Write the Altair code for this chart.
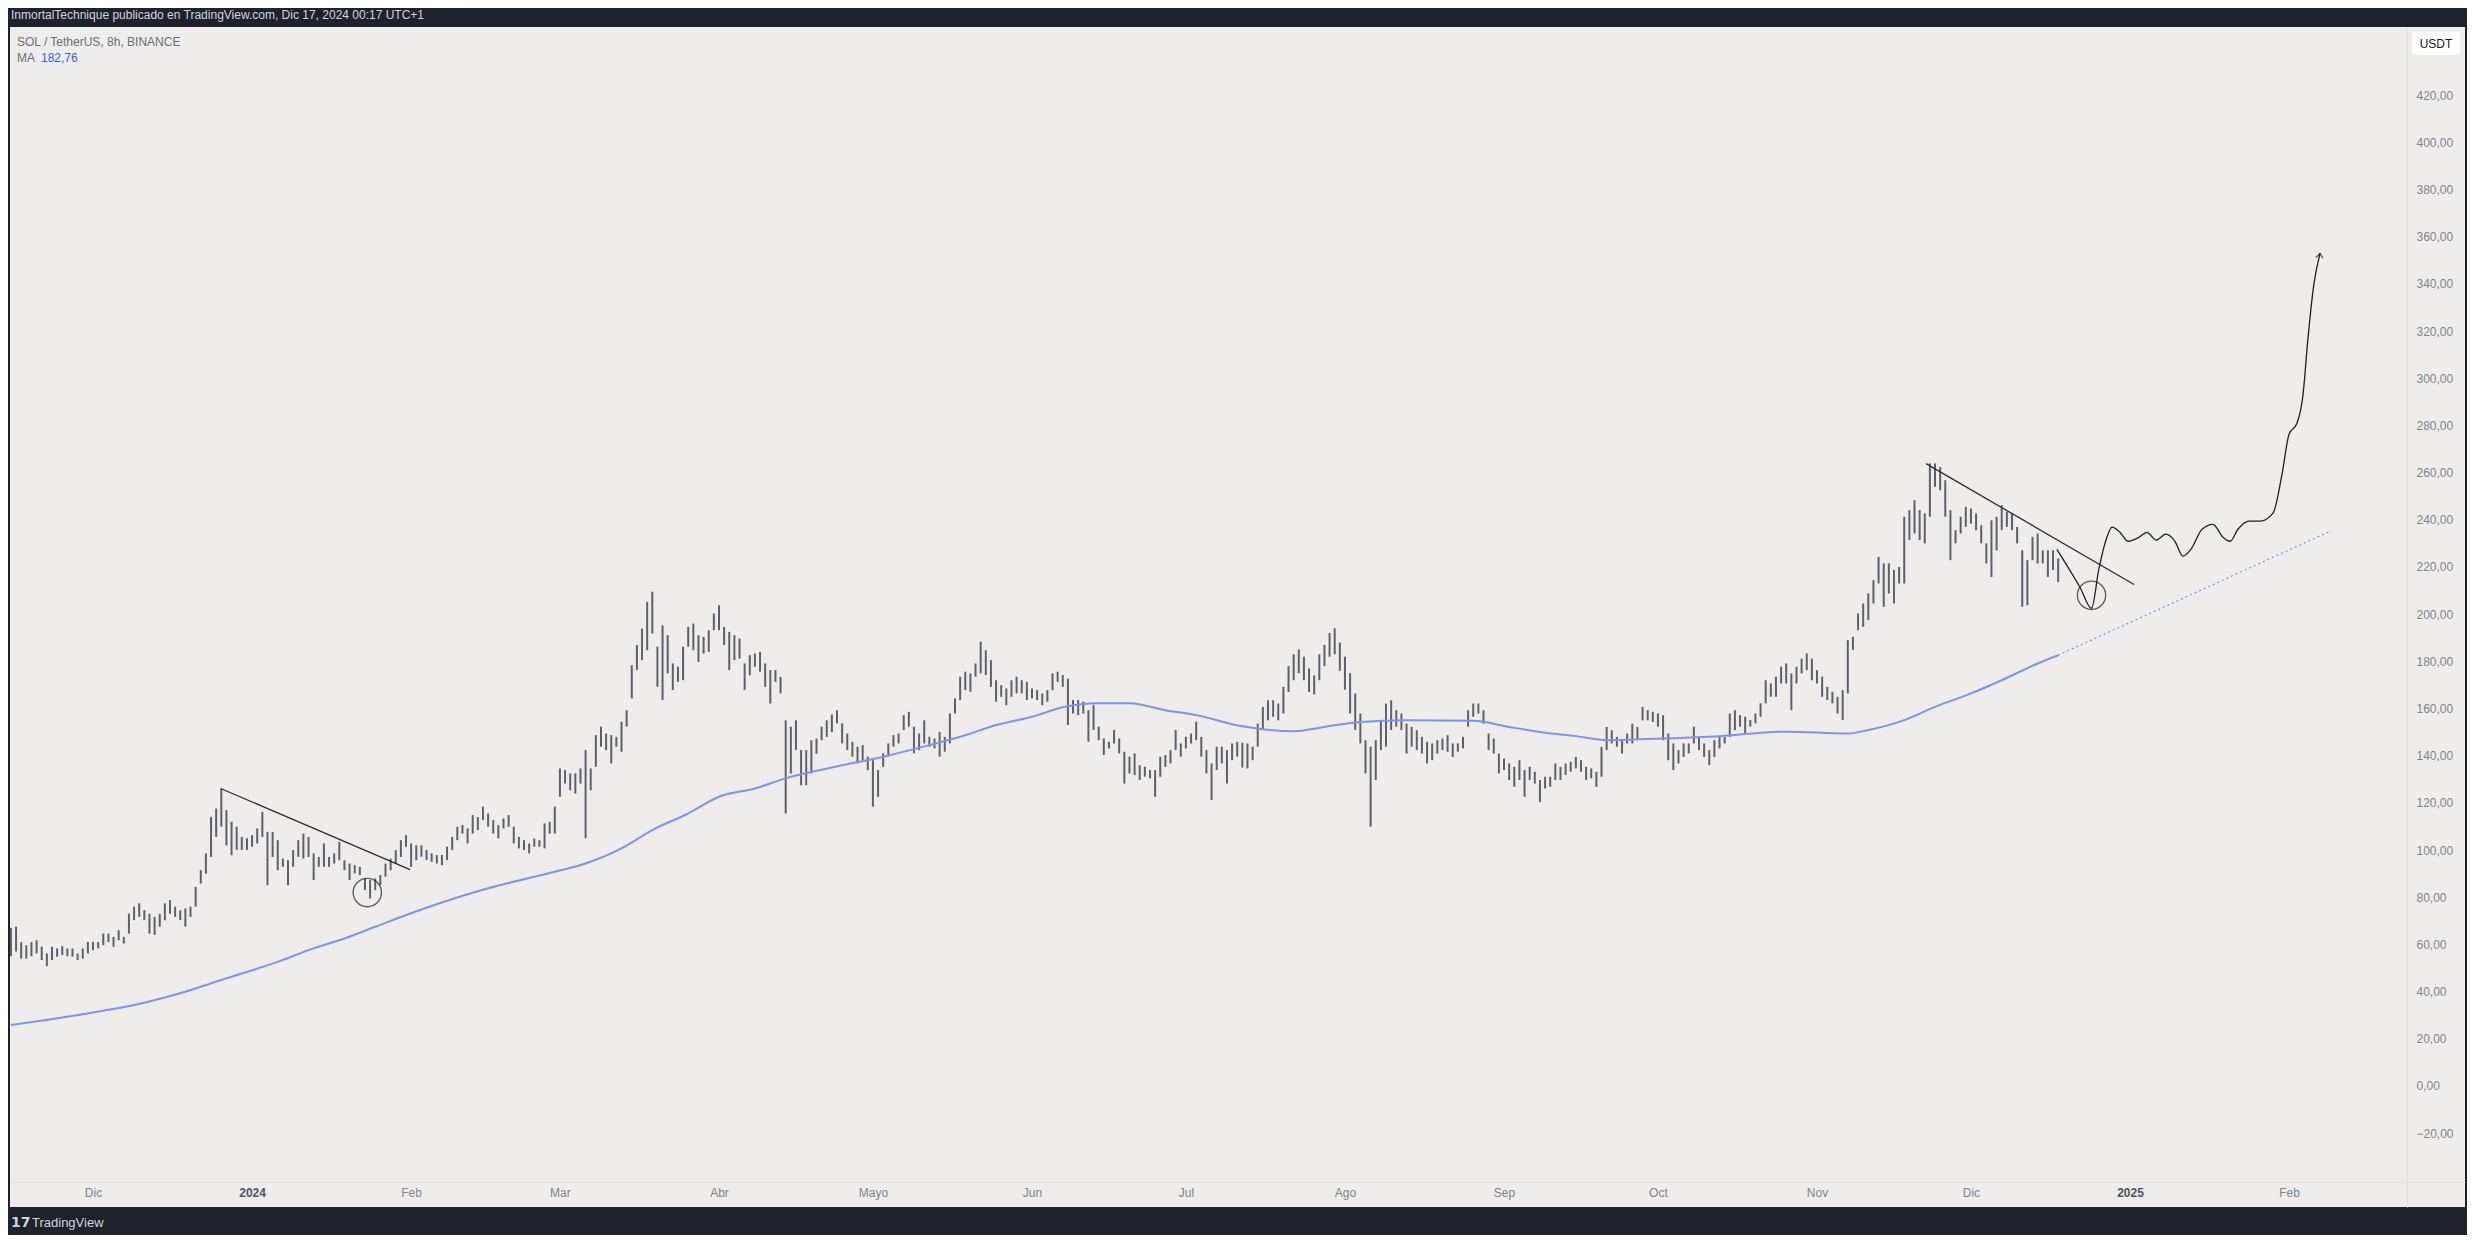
import altair as alt
import pandas as pd

# ---------------- data ----------------
START = "2023-11-15"  # first daily bar
high = [
    67, 67.5, 61, 59.7, 61, 61.8, 59, 56.2, 59, 58.3,
    59.3, 58.3, 58.3, 56.2, 58.3, 61.1, 61.1, 61, 64.6, 64.6,
    63.2, 66, 63.2, 73.1, 76, 77.4, 74.5, 73, 71.7, 73,
    77.4, 78.8, 76, 74.5, 75.2, 76, 84.4, 91.5, 98.6, 114,
    117.6, 126, 116.9, 112, 109.9, 105.6, 105, 106.3, 109.2, 116.2,
    107.7, 107.7, 104.2, 96.4, 95.7, 100, 104.2, 107, 105.6, 98.6,
    97.1, 102.8, 97.1, 98.6, 103.5, 95.7, 94.3, 93.6, 92.9, 88,
    87.3, 88, 89.4, 94.3, 96.4, 100, 104.2, 106.3, 102.8, 102,
    102, 100, 98.6, 97.9, 97.9, 101.4, 105.6, 109.9, 110.6, 109.2,
    114.8, 114, 118.4, 115.5, 112.7, 110.6, 113.4, 114.8, 109.9, 105.6,
    104.2, 102.8, 104.9, 104.2, 111.3, 112, 118.4, 134.6, 133.9, 132.5,
    132.5, 134.6, 142.4, 134.6, 148.7, 152.3, 149.4, 148.7, 148, 154.4,
    159.3, 178.4, 186.9, 193.9, 205.2, 209.5, 186.2, 195.3, 191.1, 179.1,
    177.7, 186.2, 194.6, 196, 191.1, 190.4, 193.2, 200.3, 203.8, 194.6,
    192.5, 191.1, 189.7, 179.1, 182.6, 183.3, 184, 179.1, 176.3, 176.3,
    173.4, 155, 152.3, 155, 142.4, 142.4, 146.6, 147.3, 152.3, 155,
    157.5, 159.3, 153.7, 149.4, 145.9, 143.8, 144.5, 139.6, 138.1, 133.9,
    141, 145.2, 148.7, 149.4, 157.2, 158.6, 152.3, 149.4, 155, 148,
    147.3, 150.1, 148, 157.9, 164.3, 173.5, 175.6, 174.9, 179.1, 188.3,
    184.7, 180.5, 172, 169.9, 168.5, 172, 173.5, 172, 171.3, 168.5,
    167.8, 166.4, 167.8, 174.9, 175.6, 174.2, 172.7, 163.6, 163.6, 162.9,
    159.3, 161.4, 152.3, 147.3, 145.9, 150.9, 147.3, 141.7, 139.6, 141,
    136, 135.3, 133.9, 133.9, 139.6, 140.3, 142.4, 150.9, 145.2, 148,
    149.4, 154.4, 148, 142.4, 136.7, 143.8, 143.8, 142.4, 145.2, 145.9,
    145.5, 145.2, 143.8, 153.6, 160.7, 163.5, 163.5, 162.1, 169.2, 178,
    183, 185, 182, 177, 174, 183, 187, 192, 194, 188,
    182, 175, 166.4, 157.9, 146.6, 143.8, 146.6, 155, 162.1, 163.5,
    159.3, 157.9, 153.6, 152.2, 150.8, 148, 145.9, 145.2, 146.6, 147.3,
    148.7, 145.2, 145.2, 148, 159.3, 162.1, 162.1, 159.3, 149.4, 147.3,
    140.9, 138.8, 136.7, 135.3, 138.1, 133.9, 135.3, 133.2, 129.7, 131.1,
    131.1, 136.7, 135.3, 136.7, 137.4, 139.5, 138.1, 135.3, 134.6, 133.2,
    143.8, 152.2, 150.8, 148, 146.6, 149.4, 153.6, 152.2, 160.7, 159.3,
    158.6, 157.9, 157.2, 149.4, 145.2, 142.4, 145.2, 145.2, 152.3, 148,
    145.2, 142.4, 146.6, 148, 148, 157.9, 159.3, 157.2, 156.5, 155.1,
    157.9, 162.2, 172, 170.6, 173.5, 177.7, 179.1, 174.9, 177.7, 181.2,
    183.4, 181.2, 176.3, 173.5, 169.2, 167.1, 165, 167.8, 189, 190.4,
    200.3, 204.5, 208.8, 214.4, 224.3, 221.5, 221.5, 218.7, 220, 241.3,
    244.1, 248.3, 244.1, 242.7, 263.9, 263.9, 262.4, 256.8, 244.1, 235.6,
    241.3, 245.5, 244.8, 242.7, 237.7, 230, 239.8, 241.3, 246.2, 243.4,
    242.7, 237, 227.1, 222.9, 232.8, 234.2, 227.1, 227.1, 227.1, 223.6,
]
low = [
    55, 57, 54, 54, 55, 56.2, 53.4, 50.8, 53.4, 54.8,
    55.5, 55, 54.8, 53.4, 54, 56.2, 57.6, 58.3, 59.7, 61,
    59, 61.8, 60.4, 64.6, 70.3, 71.7, 70.3, 64.6, 64, 67.5,
    70.3, 73, 71.7, 70.3, 67.5, 71.7, 76, 85.8, 90, 97.1,
    105.6, 109.9, 102, 97.8, 100, 100, 100, 101.4, 102.8, 105.6,
    85.1, 97.1, 91.5, 92.9, 85.1, 92.9, 97.1, 96.4, 97.1, 87.3,
    92.9, 92.9, 92.9, 94.3, 95.7, 91.5, 87.3, 90.1, 89.4, 83,
    79.5, 83, 85.1, 88.7, 91.5, 94.3, 97.1, 101.4, 92.9, 95.7,
    97.2, 95.8, 95, 94.3, 93.6, 95.8, 100, 104.2, 107, 102.8,
    107, 108.5, 112.7, 109.9, 107, 105, 109.2, 109.9, 102.8, 100.7,
    100, 98.6, 101.4, 101.4, 100.7, 107, 107, 122.6, 128.2, 125.4,
    124, 128.2, 105, 125.4, 135.3, 143.8, 142.4, 136.7, 143.8, 141.7,
    152.3, 164.3, 176.3, 180.5, 184.7, 191.8, 169.2, 163.6, 174.9, 167.8,
    171.3, 172, 186.2, 184.7, 179.8, 183.3, 184, 193.2, 193.2, 186.9,
    176.3, 180.5, 181.2, 167.8, 174.1, 177.7, 175.6, 169.2, 162.1, 171.3,
    166.4, 115.5, 132.5, 142.4, 127.5, 127.5, 132.5, 140.9, 146.6, 148,
    150, 153.7, 145.2, 142.4, 139.6, 136.7, 138.1, 133.9, 118.4, 122.6,
    135.3, 139.6, 143.8, 145.2, 150.9, 152.3, 141, 142.4, 145.2, 143.8,
    143.1, 139.6, 141.7, 145.2, 157.9, 163.6, 167.8, 167.1, 173.5, 174.9,
    174.2, 169.2, 162.9, 165, 161.4, 165, 166.4, 166.4, 163.6, 164.3,
    163.6, 161.4, 162.9, 167.8, 171.3, 169.2, 153, 157.9, 157.2, 157.9,
    145.9, 150.9, 146.6, 140.3, 143.1, 145.2, 141, 128.2, 132.5, 131.8,
    129.7, 131.1, 130.4, 122.6, 131.1, 135.3, 136.7, 142.4, 139.6, 143.1,
    145.2, 146.6, 139.6, 132.5, 121.2, 133.9, 136.7, 128.2, 138.1, 139.6,
    135, 134.6, 138.1, 143.8, 150.9, 155, 156.5, 155, 157.9, 167,
    172, 175, 172, 167, 166, 172, 178, 182, 183, 176,
    168, 157.9, 150.9, 145.2, 132.5, 109.9, 129.7, 142.4, 143.8, 150.9,
    152.3, 150.9, 140.9, 143.8, 142.4, 140.9, 136.7, 138.1, 140.9, 142.4,
    141.7, 139.5, 141.7, 143.1, 152.3, 156.5, 157.9, 153.6, 142.4, 140.9,
    132.5, 133.9, 129.7, 126.8, 129.7, 122.6, 129.7, 128.2, 120.4, 126.1,
    126.8, 129.7, 129.7, 131.8, 133.2, 134.6, 133.2, 129.7, 130.4, 126.8,
    131.1, 142.4, 145.2, 143.8, 140.9, 145.2, 145.2, 146.6, 155, 155,
    154.3, 152.3, 146.6, 138.1, 133.9, 136.7, 139.5, 141, 145.2, 142.4,
    139.5, 136, 139.5, 143.1, 145.2, 148, 150.8, 152.3, 149.4, 152.3,
    153.7, 156.5, 162.2, 165, 165, 170.6, 170.6, 159.3, 170.6, 174.9,
    176.3, 172, 170.6, 165, 163.6, 162.2, 157.9, 155.1, 166.4, 184.8,
    193.2, 194.6, 197.5, 204.5, 213, 203.1, 208.8, 204.5, 213, 213,
    231.4, 234.2, 231.4, 230, 241.3, 254, 252.5, 241.3, 222.9, 230,
    234.2, 237, 238.4, 235.6, 230, 221.5, 215.8, 227.1, 235.6, 237,
    235.6, 230, 203.1, 203.8, 222.9, 221.5, 221.5, 215.8, 218.7, 213.7,
]

ma_dates = [
    "2023-11-15", "2023-11-28", "2023-12-11", "2023-12-21", "2023-12-24", "2023-12-30",
    "2024-01-06", "2024-01-12", "2024-01-19", "2024-01-25", "2024-02-03", "2024-02-16",
    "2024-02-29", "2024-03-06", "2024-03-13", "2024-03-19", "2024-03-26", "2024-04-01",
    "2024-04-08", "2024-04-14", "2024-04-23", "2024-05-03", "2024-05-12", "2024-05-19",
    "2024-05-25", "2024-06-01", "2024-06-07", "2024-06-14", "2024-06-20", "2024-06-27",
    "2024-07-03", "2024-07-12", "2024-07-22", "2024-07-28", "2024-08-04", "2024-08-13",
    "2024-08-26", "2024-09-02", "2024-09-08", "2024-09-15", "2024-09-21", "2024-09-30",
    "2024-10-13", "2024-10-26", "2024-11-07", "2024-11-11", "2024-11-18", "2024-11-24",
    "2024-12-01", "2024-12-07", "2024-12-14", "2024-12-18",
]
ma_values = [
    25.8, 30.1, 35.3, 41.3, 43.5, 47.7,
    52.6, 57.6, 62.5, 67.5, 74.8, 83.8,
    90.8, 94.3, 100.7, 108.5, 115.5, 122.6,
    126.1, 130.4, 135.0, 139.6, 144.5, 148.7,
    153.0, 156.5, 160.5, 162.2, 162.2, 159.3,
    157.2, 152.5, 150.4, 152.2, 154.3, 155.0,
    154.8, 152.2, 150.1, 148.3, 146.6, 147.2,
    148.3, 150.2, 149.4, 150.9, 155.1, 160.7,
    166.4, 172.0, 179.1, 182.6,
]
ma_ext_dates = ["2024-12-18", "2025-02-09T06:00:00"]
ma_ext_values = [182.6, 235.4]

trend1_dates = ["2023-12-25T21:00:00", "2024-01-31T19:00:00"]
trend1_values = [126.1, 91.7]
trend2_dates = ["2024-11-22T06:00:00", "2025-01-01T19:00:00"]
trend2_values = [263.8, 212.6]
circle_dates = ["2024-01-23T11:00:00", "2024-12-24T12:00:00"]
circle_values = [82.0, 208.0]

proj_dates = [
    "2024-12-17T18:00:00", "2024-12-22T06:00:00", "2024-12-24T12:00:00", "2024-12-25T23:00:00",
    "2024-12-27T12:00:00", "2024-12-28T12:00:00", "2024-12-30T01:00:00", "2024-12-31T15:00:00",
    "2025-01-02T18:00:00", "2025-01-04T07:00:00", "2025-01-06T02:00:00", "2025-01-08T00:00:00",
    "2025-01-09T18:00:00", "2025-01-11T08:00:00", "2025-01-12T21:00:00", "2025-01-15T01:00:00",
    "2025-01-17T04:00:00", "2025-01-19T03:00:00", "2025-01-20T12:00:00", "2025-01-22T01:00:00",
    "2025-01-24T05:00:00", "2025-01-26T08:00:00", "2025-01-28T21:00:00", "2025-01-30T15:00:00",
    "2025-02-01T00:00:00", "2025-02-02T13:00:00", "2025-02-03T17:00:00", "2025-02-04T16:00:00",
    "2025-02-05T20:00:00", "2025-02-07T01:00:00",
]
proj_values = [
    227.5, 211.4, 202.5, 219.5, 232.6, 236.9, 234.7, 230.9,
    232.6, 234.7, 231.4, 233.9, 230.9, 224.6, 227.5, 236.0,
    238.1, 232.6, 230.9, 236.0, 239.4, 239.4, 242.8, 259.3,
    276.3, 280.9, 292.8, 316.5, 339.8, 353.0,
]

x_ticks = [(2023, 12), (2024, 1), (2024, 2), (2024, 3), (2024, 4), (2024, 5), (2024, 6),
           (2024, 7), (2024, 8), (2024, 9), (2024, 10), (2024, 11), (2024, 12), (2025, 1), (2025, 2)]
y_ticks = list(range(-20, 421, 20))
month_names = ["Ene", "Feb", "Mar", "Abr", "Mayo", "Jun", "Jul", "Ago", "Sep", "Oct", "Nov", "Dic"]

title_text = "InmortalTechnique publicado en TradingView.com, Dic 17, 2024 00:17 UTC+1"
symbol_text = "SOL / TetherUS, 8h, BINANCE"
ma_label = "MA"
ma_last = "182,76"

# ---------------- tables ----------------
def utc(s):
    s = s if "T" in s else s + "T00:00:00"
    return s + "Z"

bar_dates = pd.date_range(START, periods=len(high), freq="D").strftime("%Y-%m-%dT00:00:00Z")
bars = pd.DataFrame({"date": list(bar_dates), "high": high, "low": low})
ma = pd.DataFrame({"date": [utc(d) for d in ma_dates], "value": ma_values})
ma_ext = pd.DataFrame({"date": [utc(d) for d in ma_ext_dates], "value": ma_ext_values})
trend = pd.DataFrame({
    "date": [utc(d) for d in trend1_dates + trend2_dates],
    "value": trend1_values + trend2_values,
    "line": ["a", "a", "b", "b"],
})
circles = pd.DataFrame({"date": [utc(d) for d in circle_dates], "value": circle_values})
proj = pd.DataFrame({"date": [utc(d) for d in proj_dates], "value": proj_values})
tip = proj.tail(1)

# ---------------- scales & axes ----------------
FONT = "Liberation Sans"
xscale = alt.Scale(type="utc", domain=[
    alt.DateTime(year=2023, month=11, date=14, hours=19, minutes=40, utc=True),
    alt.DateTime(year=2025, month=3, date=7, hours=7, utc=True)])
yscale = alt.Scale(domain=[-51.3, 448.9], nice=False, zero=False)

names_js = "[" + ",".join("'%s'" % m for m in month_names) + "]"
xaxis = alt.Axis(
    values=[alt.DateTime(year=y, month=m, date=1, utc=True) for y, m in x_ticks],
    labelExpr="utcmonth(datum.value) == 0 ? utcFormat(datum.value, '%Y') : " + names_js + "[utcmonth(datum.value)]",
    labelColor={"condition": {"test": "utcmonth(datum.value) == 0", "value": "#50535e"}, "value": "#80838d"},
    labelFontWeight={"condition": {"test": "utcmonth(datum.value) == 0", "value": "bold"}, "value": "normal"},
    labelFont=FONT, labelFontSize=12, labelPadding=5, labelOverlap=False, labelFlush=False,
    grid=False, ticks=False, domain=True, domainColor="#e3e1de", offset=-25, title=None,
)
yaxis = alt.Axis(
    orient="right", values=y_ticks,
    labelExpr="replace(format(datum.value, '.2f'), '.', ',')",
    labelFont=FONT, labelFontSize=12, labelColor="#80838d", labelPadding=9,
    labelAlign="left", labelBaseline="middle", labelOverlap=False, labelFlush=False,
    grid=False, ticks=False, domain=True, domainColor="#e3e1de", offset=-58, title=None,
)

def X(field="date"):
    return alt.X(field + ":T", scale=xscale, axis=xaxis)

def Y(field="value"):
    return alt.Y(field + ":Q", scale=yscale, axis=yaxis)

# ---------------- layers ----------------
bar_layer = alt.Chart(bars).mark_rule(color="#5d606b", strokeWidth=2.0).encode(
    x=X(), y=Y("low"), y2="high:Q")

ma_layer = alt.Chart(ma).mark_line(color="#7b95ee", strokeWidth=2, interpolate="monotone").encode(
    x=X(), y=Y())
ma_ext_layer = alt.Chart(ma_ext).mark_line(color="#7b95ee", strokeWidth=1.2, strokeDash=[2, 3]).encode(
    x=X(), y=Y())

trend_layer = alt.Chart(trend).mark_line(color="#2a2c33", strokeWidth=1.3).encode(
    x=X(), y=Y(), detail="line:N")
circle_layer = alt.Chart(circles).mark_point(shape="circle", filled=False, size=800,
                                            color="#1f2026", strokeWidth=1.4).encode(x=X(), y=Y())
proj_layer = alt.Chart(proj).mark_line(color="#1f2026", strokeWidth=1.3, interpolate="monotone").encode(
    x=X(), y=Y())
tip_layer = alt.Chart(tip).mark_point(shape="M-0.55,0.75L0,0L0.55,0.75", filled=False, size=160,
                                      color="#1f2026", strokeWidth=1.3, angle=8).encode(x=X(), y=Y())

one = pd.DataFrame({"k": [0]})

def label(text, x, y, color, size=12, weight="normal", align="left", font=FONT):
    return alt.Chart(one).mark_text(text=text, align=align, baseline="middle", font=font,
                                    fontSize=size, fontWeight=weight, color=color).encode(
        x=alt.value(x), y=alt.value(y))

title_layer = label(title_text, 1, -12.5, "#d1d4dc", size=12)
sym_layer = label(symbol_text, 7, 15, "#6a6d78")
ma_lbl_layer = label(ma_label, 7, 31, "#6a6d78")
ma_val_layer = label(ma_last, 31, 31, "#2962ff")

usdt_box = alt.Chart(one).mark_rect(fill="#ffffff", cornerRadius=3).encode(
    x=alt.value(2402), x2=alt.value(2450), y=alt.value(5), y2=alt.value(28))
usdt_text = label("USDT", 2426, 16.5, "#131722", align="center")

logo_mark = label("17", 1, 1196, "#d1d4dc", size=14, weight="bold", font="DejaVu Sans")
logo_text = label("TradingView", 22, 1196, "#d1d4dc", size=13)

chart = alt.layer(
    bar_layer, ma_layer, ma_ext_layer, trend_layer, circle_layer, proj_layer, tip_layer,
    title_layer, sym_layer, ma_lbl_layer, ma_val_layer, usdt_box, usdt_text, logo_mark, logo_text,
).properties(
    width=2455, height=1180,
    background="#1e222d",
    padding={"left": 2, "top": 19, "right": 2, "bottom": 28},
    autosize=alt.AutoSizeParams(type="none"),
).configure_view(fill="#eeedeb", stroke=None)

chart.save("out.html", embed_options={"renderer": "svg", "actions": False})
